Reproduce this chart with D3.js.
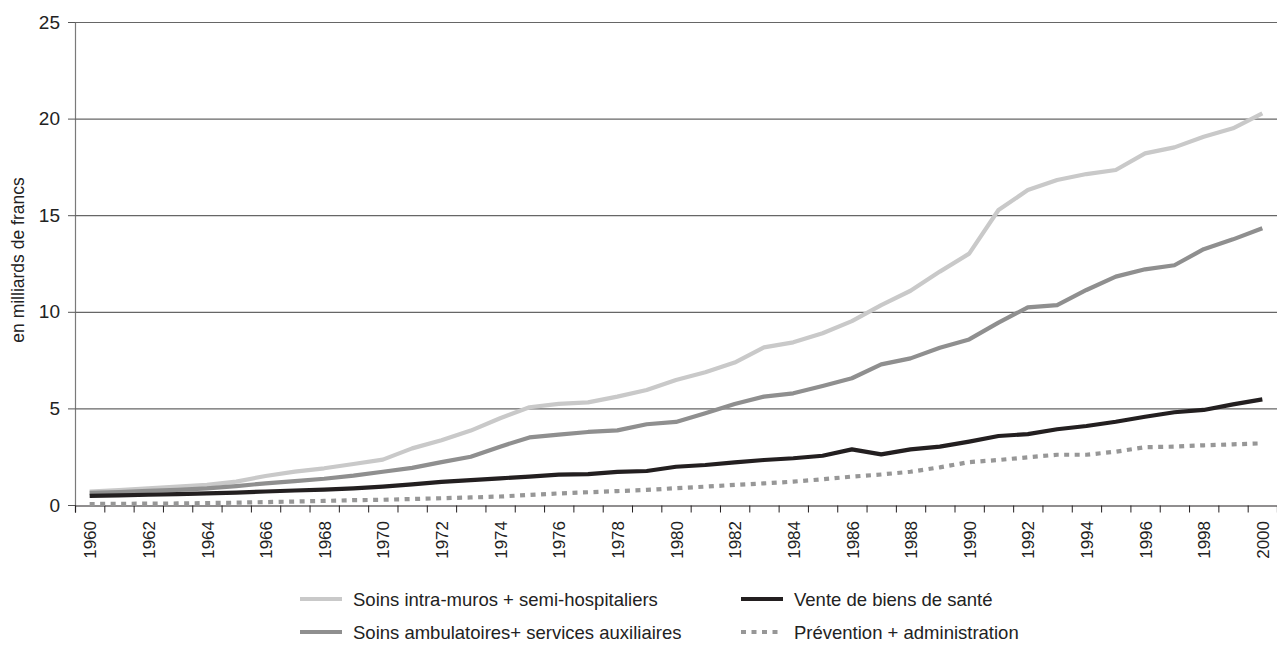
<!DOCTYPE html>
<html>
<head>
<meta charset="utf-8">
<script src="https://cdn.jsdelivr.net/npm/d3@7"></script>
<style>
  html, body { margin: 0; padding: 0; background: #fff; }
  svg { display: block; font-family: "Liberation Sans", Arial, Helvetica, sans-serif; }
</style>
</head>
<body>
<svg id="chart" width="1277" height="648"></svg>
<script>
// ---------------- data ----------------
const years = d3.range(1960, 2001);
const yTicks = [0, 5, 10, 15, 20, 25];
const yTitle = "en milliards de francs";
const seriesNames = [
  "Soins intra-muros + semi-hospitaliers",
  "Vente de biens de santé",
  "Soins ambulatoires+ services auxiliaires",
  "Prévention + administration"
];
const intraMuros = [0.69, 0.77, 0.86, 0.95, 1.04, 1.21, 1.50, 1.73, 1.90, 2.12, 2.35,
  2.93, 3.35, 3.85, 4.49, 5.06, 5.23, 5.31, 5.61, 5.95, 6.47,
  6.87, 7.37, 8.16, 8.42, 8.89, 9.52, 10.35, 11.09, 12.08, 13.01,
  15.27, 16.30, 16.82, 17.13, 17.34, 18.20, 18.51, 19.06, 19.50, 20.27];
const venteBiens = [0.47, 0.50, 0.53, 0.56, 0.60, 0.64, 0.70, 0.75, 0.80, 0.86, 0.95,
  1.07, 1.20, 1.29, 1.38, 1.47, 1.57, 1.60, 1.71, 1.76, 1.98,
  2.07, 2.21, 2.33, 2.42, 2.55, 2.88, 2.62, 2.88, 3.02, 3.28,
  3.57, 3.67, 3.92, 4.09, 4.31, 4.57, 4.80, 4.92, 5.21, 5.47];
const ambulatoires = [0.63, 0.67, 0.73, 0.78, 0.86, 0.98, 1.12, 1.24, 1.36, 1.52, 1.72,
  1.92, 2.22, 2.50, 3.02, 3.50, 3.64, 3.78, 3.86, 4.18, 4.30,
  4.75, 5.23, 5.61, 5.78, 6.16, 6.56, 7.28, 7.59, 8.14, 8.57,
  9.44, 10.23, 10.35, 11.13, 11.82, 12.20, 12.41, 13.24, 13.75, 14.32];
const prevention = [0.05, 0.06, 0.07, 0.08, 0.10, 0.12, 0.15, 0.18, 0.21, 0.25, 0.27,
  0.31, 0.35, 0.39, 0.44, 0.52, 0.60, 0.66, 0.72, 0.78, 0.87,
  0.95, 1.04, 1.12, 1.21, 1.33, 1.47, 1.58, 1.72, 1.95, 2.22,
  2.33, 2.47, 2.60, 2.60, 2.76, 2.99, 3.02, 3.09, 3.14, 3.19];

// ---------------- layout ----------------
const svg = d3.select("#chart");
const plot = { left: 75, right: 1277, top: 22, bottom: 505 };

const x = d3.scaleLinear().domain([1959.5, 2000.5]).range([plot.left, plot.right]);
const y = d3.scaleLinear().domain([0, 25]).range([plot.bottom, plot.top]);

// y ticks
const yAxis = d3.axisLeft(y).tickValues(yTicks).tickSize(7).tickPadding(8);
const gy = svg.append("g").attr("transform", `translate(${plot.left},0)`).call(yAxis);
gy.select(".domain").attr("stroke", "#7a7a7a").attr("stroke-width", 1.2);
gy.selectAll(".tick line").attr("stroke", "#555");
gy.selectAll(".tick text").attr("font-size", 19).attr("fill", "#222")
  .attr("font-family", '"Liberation Sans", Arial, sans-serif');

// gridlines
svg.append("g").selectAll("line").data(yTicks.filter(d => d > 0)).join("line")
  .attr("x1", plot.left).attr("x2", plot.right)
  .attr("y1", d => y(d) + 0.5).attr("y2", d => y(d) + 0.5)
  .attr("stroke", "#666").attr("stroke-width", 1.2);

// y title
svg.append("text")
  .attr("transform", `translate(24,260) rotate(-90)`)
  .attr("text-anchor", "middle")
  .attr("font-size", 17.5).attr("fill", "#222")
  .text(yTitle);

// x axis: ticks at boundaries between years
const boundaries = d3.range(0, years.length + 1).map(i => 1959.5 + i);
const xTickAxis = d3.axisBottom(x).tickValues(boundaries).tickSize(7).tickFormat("");
const gx = svg.append("g").attr("transform", `translate(0,${plot.bottom + 0.5})`).call(xTickAxis);
gx.select(".domain").attr("stroke", "#231f20").attr("stroke-width", 1.2);
gx.selectAll(".tick line").attr("stroke", "#231f20");

// x labels (every other year), rotated
const labelYears = years.filter(yr => yr % 2 === 0);
const xLabelAxis = d3.axisBottom(x).tickValues(labelYears).tickSize(0).tickFormat(d3.format("d"));
const gxl = svg.append("g").attr("transform", `translate(0,${plot.bottom})`).call(xLabelAxis);
gxl.select(".domain").remove();
gxl.selectAll(".tick text")
  .attr("font-size", 17).attr("fill", "#222")
  .attr("transform", "rotate(-90)")
  .attr("x", -16).attr("y", 0).attr("dy", "0.36em")
  .attr("text-anchor", "end");

// lines
const seriesData = [
  { name: seriesNames[0], values: intraMuros, color: "#c9c9c9", dash: null },
  { name: seriesNames[2], values: ambulatoires, color: "#8f8f8f", dash: null },
  { name: seriesNames[1], values: venteBiens, color: "#231f20", dash: null },
  { name: seriesNames[3], values: prevention, color: "#979797", dash: "5,5.5" }
];
const line = d3.line().x((d, i) => x(years[i])).y(d => y(d));
svg.append("g").selectAll("path").data(seriesData).join("path")
  .attr("d", d => line(d.values))
  .attr("fill", "none")
  .attr("stroke", d => d.color)
  .attr("stroke-width", 4.2)
  .attr("stroke-dasharray", d => d.dash)
  .attr("stroke-linejoin", "round");

// legend
const legendItems = [
  { name: seriesNames[0], color: "#c9c9c9", dash: null, lx: 300, ly: 599 },
  { name: seriesNames[1], color: "#231f20", dash: null, lx: 741, ly: 599 },
  { name: seriesNames[2], color: "#8f8f8f", dash: null, lx: 300, ly: 632 },
  { name: seriesNames[3], color: "#979797", dash: "5,5.5", lx: 741, ly: 632 }
];
const lg = svg.append("g").selectAll("g").data(legendItems).join("g")
  .attr("transform", d => `translate(${d.lx},${d.ly})`);
lg.append("line").attr("x1", 0).attr("x2", 42).attr("y1", 0).attr("y2", 0)
  .attr("stroke", d => d.color).attr("stroke-width", 4.2)
  .attr("stroke-dasharray", d => d.dash);
lg.append("text").attr("x", 53).attr("y", 0).attr("dy", "0.36em")
  .attr("font-size", 18.5).attr("fill", "#222")
  .text(d => d.name);
</script>
</body>
</html>
